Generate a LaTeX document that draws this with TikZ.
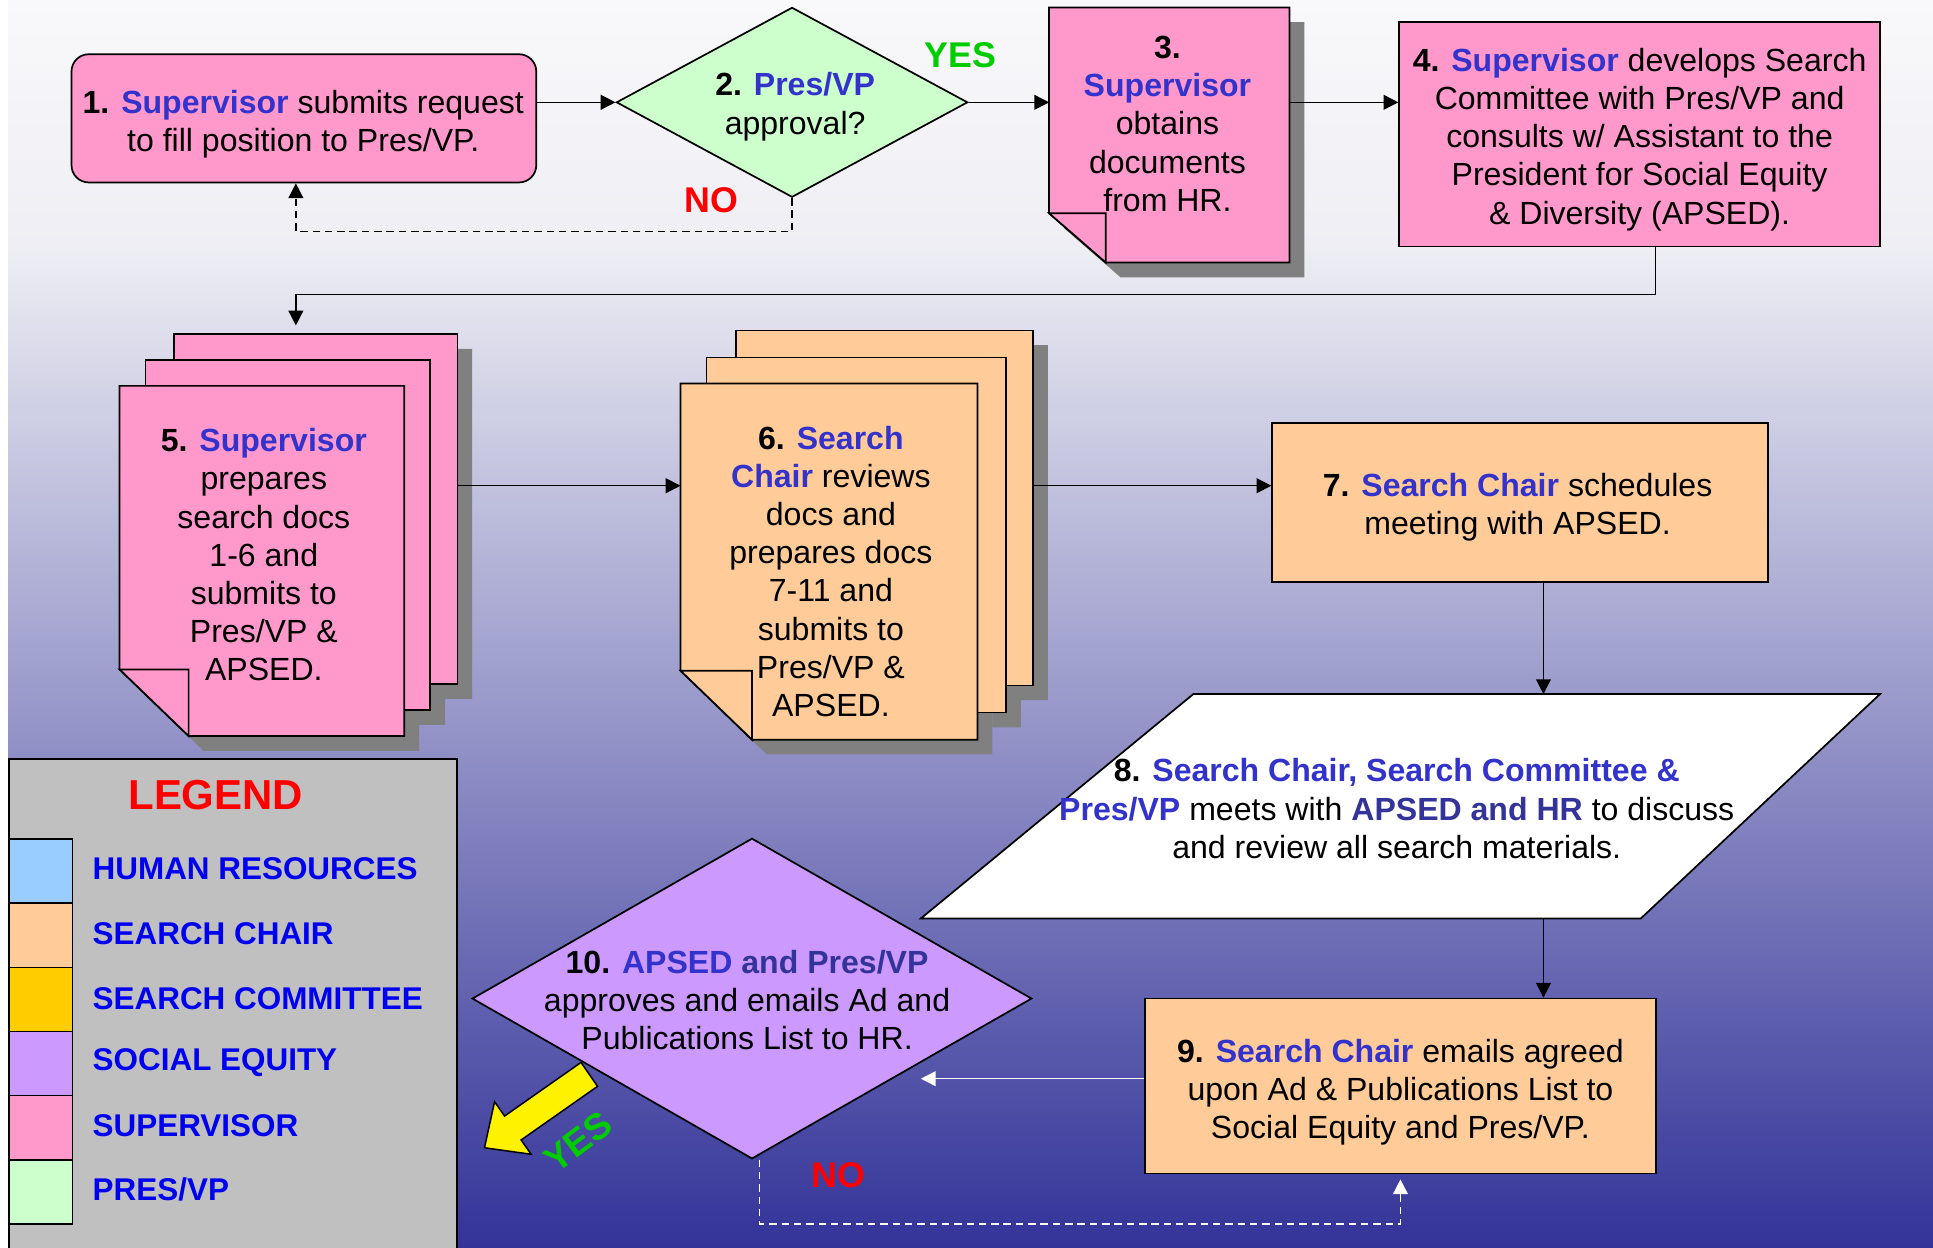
\documentclass[tikz,border=0pt]{standalone}
\usepackage{fontspec}
\setmainfont{Liberation Sans}
\usetikzlibrary{arrows.meta,shapes.geometric,calc}
\definecolor{pinkc}{HTML}{FF99CC}
\definecolor{peach}{HTML}{FFCC99}
\definecolor{mint}{HTML}{CCFFCC}
\definecolor{lilac}{HTML}{CC99FF}
\definecolor{skyb}{HTML}{99CCFF}
\definecolor{goldc}{HTML}{FFCC00}
\definecolor{hlblue}{HTML}{3333CC}
\definecolor{hldark}{HTML}{333399}
\definecolor{legblue}{HTML}{0000F0}
\definecolor{yesgreen}{HTML}{00CC00}
\definecolor{nored}{HTML}{FF0000}
\definecolor{shadowgray}{HTML}{808080}
\definecolor{bgtop}{RGB}{249,249,251}
\definecolor{bgmid}{RGB}{238,238,244}
\definecolor{bgbot}{RGB}{51,51,153}
\definecolor{leggray}{HTML}{C0C0C0}
\newcommand{\hlt}[1]{\textbf{\textcolor{hlblue}{#1}}}
\newcommand{\hld}[1]{\textbf{\textcolor{hldark}{#1}}}
\begin{document}
\begin{tikzpicture}[x=1pt,y=-1pt,
  box/.style={draw=black, line width=1.4pt},
  txt/.style={align=center, font=\fontsize{26}{31}\selectfont, inner sep=0pt},
  bbox/.style={inner sep=0pt, outer sep=0pt},
  conn/.style={line width=1.2pt, -{Triangle[length=12pt,width=12pt]}},
  dashline/.style={dash pattern=on 6pt off 4pt},
  shadowfill/.style={fill=shadowgray},
  yesno/.style={font=\bfseries\fontsize{29}{29}\selectfont, inner sep=0pt},
  legtxt/.style={font=\bfseries\fontsize{25.5}{25.5}\selectfont, text=legblue, anchor=west, inner sep=0pt},
  swatch/.style={draw=black, line width=1.4pt, minimum width=51.5pt, minimum height=52pt, inner sep=0pt, anchor=north west}
]
\useasboundingbox (0,0) rectangle (1568,1012);
% background
\fill[white] (0,0) rectangle (1568,1012);
\shade[top color=bgtop, bottom color=bgmid] (6.5,0) rectangle (1568,200.5);
\shade[top color=bgmid, bottom color=bgbot] (6.5,200) rectangle (1568,1012);

% ---------- shadows ----------
\fill[shadowfill] (863,18) -- (1058,18) -- (1058,225) -- (909,225) -- (863,185) -- cycle;
% stack 5
\fill[shadowfill] (153,283) -- (383,283) -- (383,567) -- (361,567) -- (361,304) -- (153,304) -- cycle;
\fill[shadowfill] (130,304) -- (361,304) -- (361,588) -- (340,588) -- (340,325) -- (130,325) -- cycle;
\fill[shadowfill] (109,325) -- (340,325) -- (340,609) -- (165,609) -- (109,555) -- cycle;
% stack 6
\fill[shadowfill] (609,280) -- (850,280) -- (850,568) -- (828,568) -- (828,302) -- (609,302) -- cycle;
\fill[shadowfill] (585,302) -- (828,302) -- (828,590) -- (805,590) -- (805,323) -- (585,323) -- cycle;
\fill[shadowfill] (564,323) -- (805,323) -- (805,612) -- (622,612) -- (564,556) -- cycle;

% ---------- 1 ----------
\node[box, rounded corners=14pt, fill=pinkc, minimum width=377pt, minimum height=104pt, inner sep=0pt] (n1) at (246.5,96) {};
\node[txt] (t1) at (246,100.5) {\textbf{1.} \hlt{Supervisor} submits request\\to fill position to Pres/VP.};

% ---------- 2 ----------
\node[box, diamond, fill=mint, minimum width=285pt, minimum height=154pt, inner sep=0pt] (n2) at (642.5,83) {};
\node[txt] (t2) at (645,86.5) {\textbf{2.} \hlt{Pres/VP}\\approval?};

% ---------- 3 ----------
\node[bbox, minimum width=195pt, minimum height=207pt] (n3) at (948.5,109.5) {};
\draw[box, fill=pinkc] (851,6) -- (1046,6) -- (1046,213) -- (897,213) -- (851,173) -- cycle;
\draw[box, fill=pinkc] (851,173) -- (897,173) -- (897,213) -- cycle;
\node[txt] (t3) at (947,100.5) {\textbf{3.}\\\hlt{Supervisor}\\obtains\\documents\\from HR.};

% ---------- 4 ----------
\node[box, fill=pinkc, minimum width=390pt, minimum height=182pt, inner sep=0pt] (n4) at (1330,109) {};
\node[txt] (t4) at (1330,113) {\textbf{4.} \hlt{Supervisor} develops Search\\Committee with Pres/VP and\\consults w/ Assistant to the\\President for Social Equity\\\& Diversity (APSED).};

% ---------- 5 ----------
\node[bbox, minimum width=274pt, minimum height=326pt] (n5) at (234,434) {};
\draw[box, fill=pinkc] (141,271) -- (371,271) -- (371,555) -- (349,555) -- (349,292) -- (141,292) -- cycle;
\draw[box, fill=pinkc] (118,292) -- (349,292) -- (349,576) -- (328,576) -- (328,313) -- (118,313) -- cycle;
\draw[box, fill=pinkc] (97,313) -- (328,313) -- (328,597) -- (153,597) -- (97,543) -- cycle;
\draw[box, fill=pinkc] (97,543) -- (153,543) -- (153,597) -- cycle;
\node[txt] (t5) at (214,450) {\textbf{5.} \hlt{Supervisor}\\prepares\\search docs\\1-6 and\\submits to\\Pres/VP \&\\APSED.};

% ---------- 6 ----------
\node[bbox, minimum width=286pt, minimum height=332pt] (n6) at (695,434) {};
\draw[box, fill=peach] (597,268) -- (838,268) -- (838,556) -- (816,556) -- (816,290) -- (597,290) -- cycle;
\draw[box, fill=peach] (573,290) -- (816,290) -- (816,578) -- (793,578) -- (793,311) -- (573,311) -- cycle;
\draw[box, fill=peach] (552,311) -- (793,311) -- (793,600) -- (610,600) -- (552,544) -- cycle;
\draw[box, fill=peach] (552,544) -- (610,544) -- (610,600) -- cycle;
\node[txt] (t6) at (674,463.5) {\textbf{6.} \hlt{Search}\\\hlt{Chair} reviews\\docs and\\prepares docs\\7-11 and\\submits to\\Pres/VP \&\\APSED.};

% ---------- 7 ----------
\node[box, fill=peach, minimum width=402pt, minimum height=129pt, inner sep=0pt] (n7) at (1233,407.5) {};
\node[txt] (t7) at (1231,411.5) {\textbf{7.} \hlt{Search Chair} schedules\\meeting with APSED.};

% ---------- 8 ----------
\node[bbox, minimum width=778pt, minimum height=182pt] (n8) at (1136,654) {};
\draw[box, fill=white] (968,563) -- (1525,563) -- (1331,745) -- (747,745) -- cycle;
\node[txt] (t8) at (1133,656) {\textbf{8.} \hlt{Search Chair, Search Committee \&}\\\hlt{Pres/VP} meets with \hld{APSED and HR} to discuss\\and review all search materials.};

% ---------- 9 ----------
\node[box, fill=peach, minimum width=414pt, minimum height=142pt, inner sep=0pt] (n9) at (1136,881) {};
\node[txt] (t9) at (1136,886) {\textbf{9.} \hlt{Search Chair} emails agreed\\upon Ad \& Publications List to\\Social Equity and Pres/VP.};

% ---------- 10 ----------
\node[box, diamond, fill=lilac, minimum width=454pt, minimum height=260pt, inner sep=0pt] (n10) at (610,810) {};
\node[txt] (t10) at (606,811) {\textbf{10.} \hlt{APSED} \hld{and Pres/VP}\\approves and emails Ad and\\Publications List to HR.};

% ---------- connectors ----------
\coordinate (in5) at (240,264);
\coordinate (r2) at (0,394);
\coordinate (c78) at (1252,0);
\coordinate (r9) at (0,875);
\coordinate (in10) at (747,875);
\draw[conn] (n1.east |- n2.west) -- (n2.west);
\draw[conn] (n2.east) -- (n2.east -| n3.west);
\draw[conn] (n3.east |- n2.east) -- (n4.west |- n2.east);
\draw[conn] ([xshift=13pt]n4.south) -- ++(0,38) -| (in5);
\draw[conn] (n5.east |- r2) -- (n6.west |- r2);
\draw[conn] (n6.east |- r2) -- (n7.west |- r2);
\draw[conn] (n7.south -| c78) -- (n8.north -| c78);
\draw[conn] (n8.south -| c78) -- (n9.north -| c78);
\draw[conn, white] (n9.west |- r9) -- (in10);
\draw[conn, dashline] (n2.south) -- ++(0,27) -| ([xshift=-6.5pt]n1.south);
\draw[conn, dashline, white] ([xshift=6pt]n10.south) -- ++(0,52) -| ([yshift=-4pt]n9.south);

% ---------- yellow YES arrow ----------
\draw[line width=1.2pt, fill=yellow] (471.3,861.8) -- (409.3,905.3) -- (401.2,893.7) -- (393,931) -- (430.8,936.3) -- (422.7,924.7) -- (484.7,881.2) -- cycle;

% ---------- labels ----------
\node[yesno, text=yesgreen] (yes2) at (779,45) {YES};
\node[yesno, text=nored] (no2) at (577,162) {NO};
\node[yesno, text=nored] (no10) at (680,953) {NO};
\node[yesno, text=yesgreen, rotate=37, font=\bfseries\fontsize{30}{30}\selectfont] (yes10) at (469,926) {YES};

% ---------- legend ----------
\node[draw=black, line width=1.4pt, fill=leggray, minimum width=363.5pt, minimum height=402pt, inner sep=0pt, anchor=north west] (legend) at (6.5,615) {};
\node[font=\bfseries\fontsize{34}{34}\selectfont, text=nored, inner sep=0pt] (legtitle) at (175,645) {LEGEND};
\node[swatch, fill=skyb] (sw1) at (6.5,680) {};
\node[swatch, fill=peach] (sw2) at (6.5,732) {};
\node[swatch, fill=goldc] (sw3) at (6.5,784) {};
\node[swatch, fill=lilac] (sw4) at (6.5,836) {};
\node[swatch, fill=pinkc] (sw5) at (6.5,888) {};
\node[swatch, fill=mint] (sw6) at (6.5,940) {};
\node[legtxt] (l1) at (75,705) {HUMAN RESOURCES};
\node[legtxt] (l2) at (75,757) {SEARCH CHAIR};
\node[legtxt] (l3) at (75,810) {SEARCH COMMITTEE};
\node[legtxt] (l4) at (75,862) {SOCIAL EQUITY};
\node[legtxt] (l5) at (75,913) {SUPERVISOR};
\node[legtxt] (l6) at (75,965) {PRES/VP};
\end{tikzpicture}
\end{document}
